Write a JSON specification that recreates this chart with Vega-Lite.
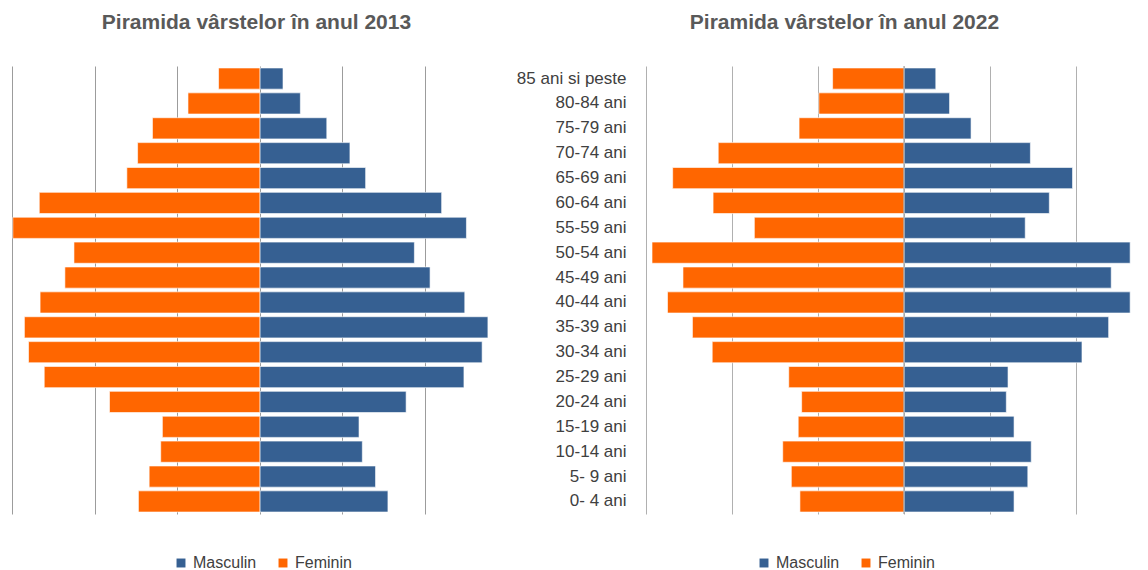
{
  "$schema": "https://vega.github.io/schema/vega-lite/v6.json",
  "background": "white",
  "padding": {"left": 12, "top": 11, "right": 5, "bottom": 0},
  "config": {
    "view": {"stroke": null},
    "font": "Liberation Sans",
    "concat": {"spacing": 149}
  },
  "bounds": "flush",
  "resolve": {"scale": {"color": "independent", "x": "independent", "y": "independent"}},
  "datasets": {
    "y2013": [
      {"age": "85 ani si peste", "sex": "Masculin", "value": 0.28}, {"age": "85 ani si peste", "sex": "Feminin", "value": -0.50},
      {"age": "80-84 ani", "sex": "Masculin", "value": 0.49}, {"age": "80-84 ani", "sex": "Feminin", "value": -0.87},
      {"age": "75-79 ani", "sex": "Masculin", "value": 0.81}, {"age": "75-79 ani", "sex": "Feminin", "value": -1.30},
      {"age": "70-74 ani", "sex": "Masculin", "value": 1.09}, {"age": "70-74 ani", "sex": "Feminin", "value": -1.48},
      {"age": "65-69 ani", "sex": "Masculin", "value": 1.28}, {"age": "65-69 ani", "sex": "Feminin", "value": -1.61},
      {"age": "60-64 ani", "sex": "Masculin", "value": 2.20}, {"age": "60-64 ani", "sex": "Feminin", "value": -2.67},
      {"age": "55-59 ani", "sex": "Masculin", "value": 2.50}, {"age": "55-59 ani", "sex": "Feminin", "value": -2.99},
      {"age": "50-54 ani", "sex": "Masculin", "value": 1.87}, {"age": "50-54 ani", "sex": "Feminin", "value": -2.25},
      {"age": "45-49 ani", "sex": "Masculin", "value": 2.06}, {"age": "45-49 ani", "sex": "Feminin", "value": -2.36},
      {"age": "40-44 ani", "sex": "Masculin", "value": 2.48}, {"age": "40-44 ani", "sex": "Feminin", "value": -2.66},
      {"age": "35-39 ani", "sex": "Masculin", "value": 2.76}, {"age": "35-39 ani", "sex": "Feminin", "value": -2.85},
      {"age": "30-34 ani", "sex": "Masculin", "value": 2.69}, {"age": "30-34 ani", "sex": "Feminin", "value": -2.80},
      {"age": "25-29 ani", "sex": "Masculin", "value": 2.47}, {"age": "25-29 ani", "sex": "Feminin", "value": -2.61},
      {"age": "20-24 ani", "sex": "Masculin", "value": 1.77}, {"age": "20-24 ani", "sex": "Feminin", "value": -1.82},
      {"age": "15-19 ani", "sex": "Masculin", "value": 1.20}, {"age": "15-19 ani", "sex": "Feminin", "value": -1.18},
      {"age": "10-14 ani", "sex": "Masculin", "value": 1.24}, {"age": "10-14 ani", "sex": "Feminin", "value": -1.20},
      {"age": "5- 9 ani", "sex": "Masculin", "value": 1.40}, {"age": "5- 9 ani", "sex": "Feminin", "value": -1.34},
      {"age": "0- 4 ani", "sex": "Masculin", "value": 1.55}, {"age": "0- 4 ani", "sex": "Feminin", "value": -1.47}
    ],
    "y2022": [
      {"age": "85 ani si peste", "sex": "Masculin", "value": 0.37}, {"age": "85 ani si peste", "sex": "Feminin", "value": -0.83},
      {"age": "80-84 ani", "sex": "Masculin", "value": 0.53}, {"age": "80-84 ani", "sex": "Feminin", "value": -0.99},
      {"age": "75-79 ani", "sex": "Masculin", "value": 0.78}, {"age": "75-79 ani", "sex": "Feminin", "value": -1.22},
      {"age": "70-74 ani", "sex": "Masculin", "value": 1.47}, {"age": "70-74 ani", "sex": "Feminin", "value": -2.16},
      {"age": "65-69 ani", "sex": "Masculin", "value": 1.96}, {"age": "65-69 ani", "sex": "Feminin", "value": -2.69},
      {"age": "60-64 ani", "sex": "Masculin", "value": 1.69}, {"age": "60-64 ani", "sex": "Feminin", "value": -2.22},
      {"age": "55-59 ani", "sex": "Masculin", "value": 1.41}, {"age": "55-59 ani", "sex": "Feminin", "value": -1.74},
      {"age": "50-54 ani", "sex": "Masculin", "value": 2.63}, {"age": "50-54 ani", "sex": "Feminin", "value": -2.93},
      {"age": "45-49 ani", "sex": "Masculin", "value": 2.41}, {"age": "45-49 ani", "sex": "Feminin", "value": -2.57},
      {"age": "40-44 ani", "sex": "Masculin", "value": 2.63}, {"age": "40-44 ani", "sex": "Feminin", "value": -2.75},
      {"age": "35-39 ani", "sex": "Masculin", "value": 2.38}, {"age": "35-39 ani", "sex": "Feminin", "value": -2.46},
      {"age": "30-34 ani", "sex": "Masculin", "value": 2.07}, {"age": "30-34 ani", "sex": "Feminin", "value": -2.23},
      {"age": "25-29 ani", "sex": "Masculin", "value": 1.21}, {"age": "25-29 ani", "sex": "Feminin", "value": -1.34},
      {"age": "20-24 ani", "sex": "Masculin", "value": 1.19}, {"age": "20-24 ani", "sex": "Feminin", "value": -1.19},
      {"age": "15-19 ani", "sex": "Masculin", "value": 1.28}, {"age": "15-19 ani", "sex": "Feminin", "value": -1.23},
      {"age": "10-14 ani", "sex": "Masculin", "value": 1.48}, {"age": "10-14 ani", "sex": "Feminin", "value": -1.41},
      {"age": "5- 9 ani", "sex": "Masculin", "value": 1.44}, {"age": "5- 9 ani", "sex": "Feminin", "value": -1.31},
      {"age": "0- 4 ani", "sex": "Masculin", "value": 1.28}, {"age": "0- 4 ani", "sex": "Feminin", "value": -1.21}
    ]
  },
  "hconcat": [
    {
      "width": 485,
      "height": 448,
      "data": {"name": "y2013"},
      "title": {"text": "Piramida vârstelor în anul 2013", "fontSize": 21, "fontWeight": "bold", "color": "#595959", "font": "Liberation Sans", "baseline": "alphabetic", "offset": 16, "dx": 2},
      "mark": {"type": "bar", "stroke": "white", "strokeWidth": 0.6},
      "encoding": {
        "y": {"field": "age", "type": "nominal", "sort": null, "scale": {"paddingInner": 0.15, "paddingOuter": 0.08}, "axis": null},
        "x": {"field": "value", "type": "quantitative", "scale": {"domain": [-3, 2.87], "nice": false, "zero": false},
              "axis": {"values": [-3, -2, -1, 0, 1, 2], "labels": false, "ticks": false, "domain": false, "title": null, "grid": true, "gridColor": "#9c9c9c", "gridWidth": 1}},
        "color": {"field": "sex", "type": "nominal",
                  "scale": {"domain": ["Masculin", "Feminin"], "range": ["#366092", "#FF6600"]},
                  "legend": {"orient": "none", "direction": "horizontal", "legendX": 161, "legendY": 489, "title": null, "symbolType": "square", "symbolSize": 80, "symbolStrokeWidth": 0, "labelFontSize": 16, "labelColor": "#404040", "labelFont": "Liberation Sans", "columnPadding": 18, "labelOffset": 4}}
      }
    },
    {
      "width": 485,
      "height": 448,
      "data": {"name": "y2022"},
      "title": {"text": "Piramida vârstelor în anul 2022", "fontSize": 21, "fontWeight": "bold", "color": "#595959", "font": "Liberation Sans", "baseline": "alphabetic", "offset": 16, "dx": -44},
      "layer": [
        {
          "mark": {"type": "bar", "stroke": "white", "strokeWidth": 0.6},
          "encoding": {
            "y": {"field": "age", "type": "nominal", "sort": null, "scale": {"paddingInner": 0.15, "paddingOuter": 0.08},
                  "axis": {"title": null, "domain": false, "ticks": false, "tickSize": 0, "labelPadding": 20, "labelFontSize": 17, "labelColor": "#404040", "labelFont": "Liberation Sans"}},
            "x": {"field": "value", "type": "quantitative", "scale": {"domain": [-3, 2.64], "nice": false, "zero": false},
                  "axis": {"values": [-3, -2, -1, 0, 1, 2], "labels": false, "ticks": false, "domain": false, "title": null, "grid": true, "gridColor": "#b0b0b0", "gridWidth": 1}},
            "color": {"field": "sex", "type": "nominal",
                      "scale": {"domain": ["Masculin", "Feminin"], "range": ["#366092", "#FF6600"]},
                      "legend": {"orient": "none", "direction": "horizontal", "legendX": 110, "legendY": 489, "title": null, "symbolType": "square", "symbolSize": 80, "symbolStrokeWidth": 0, "labelFontSize": 16, "labelColor": "#404040", "labelFont": "Liberation Sans", "columnPadding": 18, "labelOffset": 4}}
          }
        },
        {
          "data": {"values": [{"v": 0}]},
          "mark": {"type": "rule", "color": "#9c9c9c", "strokeWidth": 1},
          "encoding": {"x": {"field": "v", "type": "quantitative"}}
        }
      ]
    }
  ]
}
